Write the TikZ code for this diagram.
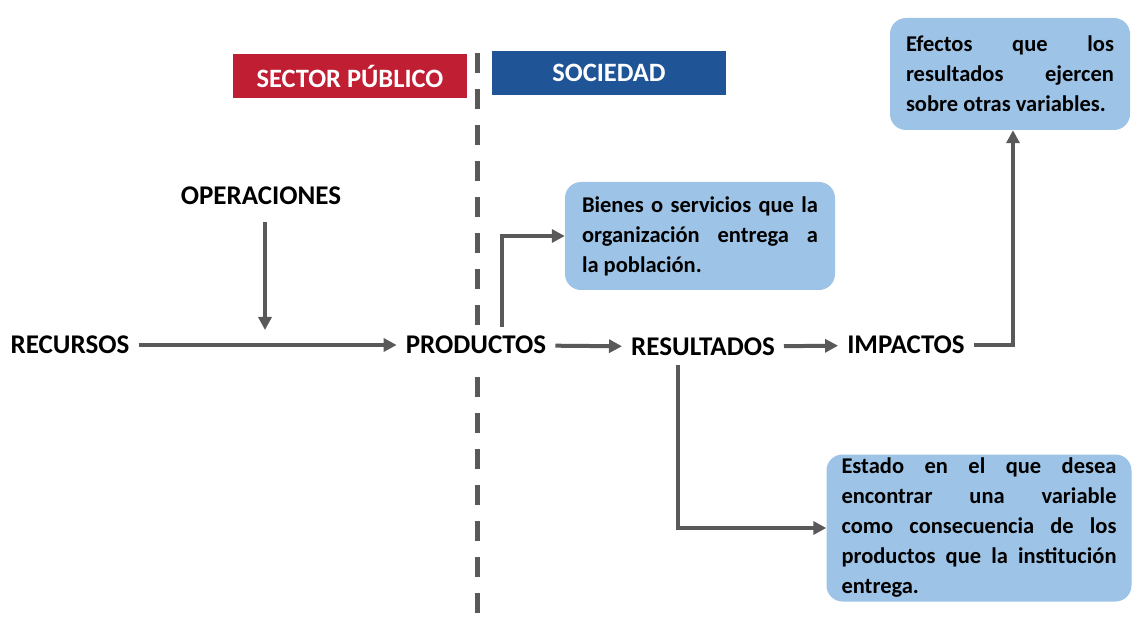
\documentclass[tikz,border=0pt]{standalone}
\usepackage{fontspec}
\setmainfont{Carlito}
\usetikzlibrary{arrows.meta}

\definecolor{rojo}{RGB}{192,31,51}
\definecolor{azul}{RGB}{31,84,150}
\definecolor{celeste}{RGB}{157,195,230}
\definecolor{gris}{RGB}{89,89,89}

\tikzset{
  etapa/.style={font=\bfseries\fontsize{27}{30}\selectfont, inner xsep=9pt, inner ysep=9pt, fill=white},
  cabecera/.style={text=white, font=\bfseries\fontsize{26.5}{30}\selectfont, minimum width=234pt, minimum height=44pt},
  nota/.style={fill=celeste, rounded corners=16pt, font=\bfseries\fontsize{22.5}{30}\selectfont, align=justify, inner ysep=0pt},
  flecha/.style={draw=gris, line width=4pt, -{Triangle[length=13pt,width=13pt]}},
}

\begin{document}
\begin{tikzpicture}[x=1pt, y=-1pt]
\useasboundingbox (0,0) rectangle (1136,628);

\draw[gris, line width=5pt, dash pattern=on 20pt off 16pt] (477,53) -- (477,628);

\node[cabecera, fill=rojo] (sector) at (350,76) {SECTOR PÚBLICO};
\node[cabecera, fill=azul] (sociedad) at (609,73) {SOCIEDAD};

\node[etapa] (rec) at (70,345) {RECURSOS};
\node[etapa] (ope) at (261,196) {OPERACIONES};
\node[etapa] (prod) at (476,345) {PRODUCTOS};
\node[etapa] (res) at (703,347) {RESULTADOS};
\node[etapa] (imp) at (906,345) {IMPACTOS};

\node[nota, text width=236pt, inner xsep=17pt, minimum height=108pt] (bienes) at (700,236)
  {\baselineskip=32.5pt Bienes o servicios que la\linebreak organización entrega a\linebreak la población.};
\node[nota, text width=208pt, inner xsep=16pt, minimum height=112pt] (efectos) at (1010,74)
  {\baselineskip=29pt Efectos que los\linebreak resultados ejercen\linebreak sobre otras variables.};
\node[nota, text width=275pt, inner xsep=15pt, minimum height=147pt] (estado) at (979,528)
  {Estado en el que desea\linebreak encontrar una variable\linebreak como consecuencia de los\linebreak productos que la institución\linebreak entrega.};

\coordinate (c1) at (265,330);
\draw[flecha] ([xshift=4pt, yshift=-8pt]ope.south) -- (c1);
\draw[flecha] (rec) -- (prod);
\draw[flecha] (prod) -- (res);
\draw[flecha] (res) -- (imp);
\draw[flecha] ([xshift=26pt]prod.north) |- (bienes.west);
\draw[flecha] ([xshift=-25pt]res.south) |- (estado.west);
\draw[flecha] (imp.east) -| ([xshift=3pt]efectos.south);

\end{tikzpicture}
\end{document}
